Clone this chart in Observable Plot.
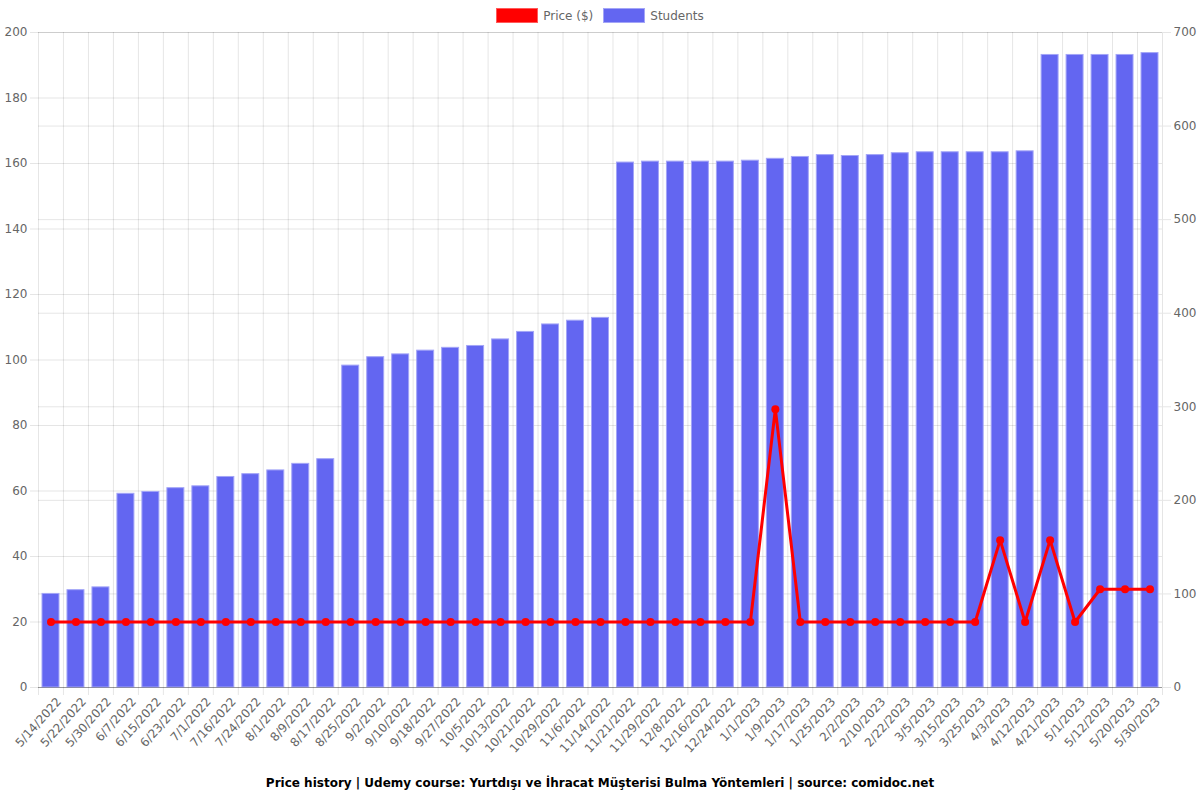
<!DOCTYPE html>
<html>
<head>
<meta charset="utf-8">
<script src="https://cdn.jsdelivr.net/npm/d3@7"></script>
<script src="https://cdn.jsdelivr.net/npm/@observablehq/plot@0.6"></script>
<style>
  body { margin: 0; background: #fff; font-family: "DejaVu Sans", sans-serif; }
  #legend { height: 16px; padding-top: 8px; display: flex; justify-content: center; align-items: flex-start; font-size: 12px; color: #666; }
  .item { display: flex; align-items: center; margin: 0 5px; height: 15px; }
  .box { width: 40px; height: 13px; margin-right: 5px; box-sizing: content-box; }
  #chart svg { display: block; }
  #caption { height: 30px; line-height: 26px; text-align: center; font-size: 12px; font-weight: bold; color: #000; }
</style>
</head>
<body>
<div id="legend"></div>
<div id="chart"></div>
<div id="caption"></div>
<script>
const dates = ["5/14/2022","5/22/2022","5/30/2022","6/7/2022","6/15/2022","6/23/2022","7/1/2022","7/16/2022","7/24/2022","8/1/2022","8/9/2022","8/17/2022","8/25/2022","9/2/2022","9/10/2022","9/18/2022","9/27/2022","10/5/2022","10/13/2022","10/21/2022","10/29/2022","11/6/2022","11/14/2022","11/21/2022","11/29/2022","12/8/2022","12/16/2022","12/24/2022","1/1/2023","1/9/2023","1/17/2023","1/25/2023","2/2/2023","2/10/2023","2/22/2023","3/5/2023","3/15/2023","3/25/2023","4/3/2023","4/12/2023","4/21/2023","5/1/2023","5/12/2023","5/20/2023","5/30/2023"];
const students = [100,104,107,207,209,213,215,225,228,232,239,244,344,353,356,360,363,365,372,380,388,392,395,561,562,562,562,562,563,565,567,569,568,569,571,572,572,572,572,573,676,676,676,676,678];
const price = [20,20,20,20,20,20,20,20,20,20,20,20,20,20,20,20,20,20,20,20,20,20,20,20,20,20,20,20,20,85,20,20,20,20,20,20,20,20,45,20,45,20,30,30,30];
const priceTicks = d3.range(0, 201, 20);
const studentTicks = d3.range(0, 701, 100);
const RATIO = 700 / 200;
const seriesNames = ["Price ($)", "Students"];
const seriesColors = ["#ff0000", "#6366f1"];
const seriesBorders = ["#ff5a5a", "#a3a5f7"];
const captionText = "Price history | Udemy course: Yurtdışı ve İhracat Müşterisi Bulma Yöntemleri | source: comidoc.net";

const rows = dates.map((d, i) => ({date: d, students: students[i], price: price[i]}));

const legend = document.getElementById("legend");
seriesNames.forEach((n, i) => {
  const it = document.createElement("div");
  it.className = "item";
  const b = document.createElement("div");
  b.className = "box";
  b.style.background = seriesColors[i];
  b.style.border = "1px solid " + seriesBorders[i];
  const t = document.createElement("span");
  t.textContent = n;
  it.appendChild(b); it.appendChild(t);
  legend.appendChild(it);
});
document.getElementById("caption").textContent = captionText;

const grid = {stroke: "#000", strokeOpacity: 0.1};
const chart = Plot.plot({
  width: 1200,
  height: 746,
  marginTop: 8,
  marginLeft: 38,
  marginRight: 38,
  marginBottom: 83,
  style: {fontFamily: "DejaVu Sans, sans-serif", fontSize: "12px", background: "#fff"},
  x: {type: "band", domain: dates, padding: 0},
  y: {domain: [0, 200]},
  marks: [
    Plot.ruleY(priceTicks, grid),
    Plot.ruleY(studentTicks.map(v => v / RATIO), grid),
    Plot.ruleX(dates, {x: d => d, dx: -12.5, ...grid, insetBottom: -8}),
    Plot.ruleX([dates[dates.length - 1]], {x: d => d, dx: 12.5, ...grid, insetBottom: -8}),
    Plot.barY(rows, {x: "date", y: d => d.students / RATIO, fill: seriesColors[1], stroke: seriesBorders[1], strokeWidth: 1, insetLeft: 4, insetRight: 4}),
    Plot.line(rows, {x: "date", y: "price", stroke: seriesColors[0], strokeWidth: 3}),
    Plot.dot(rows, {x: "date", y: "price", r: 4, fill: seriesColors[0]}),
    Plot.ruleY([0], {stroke: "#000", strokeOpacity: 0.25}),
    Plot.axisY(priceTicks, {anchor: "left", tickSize: 8, tickPadding: 3, stroke: "#000", strokeOpacity: 0.1, fill: "#666", label: null}),
    Plot.axisY(studentTicks.map(v => v / RATIO), {anchor: "right", tickSize: 8, tickPadding: 3, tickFormat: d => Math.round(d * RATIO), stroke: "#000", strokeOpacity: 0.1, fill: "#666", label: null}),
    Plot.axisX({tickRotate: -48, tickSize: 0, tickPadding: 12, dx: 8, fill: "#666", label: null})
  ]
});
document.getElementById("chart").appendChild(chart);
</script>
</body>
</html>
